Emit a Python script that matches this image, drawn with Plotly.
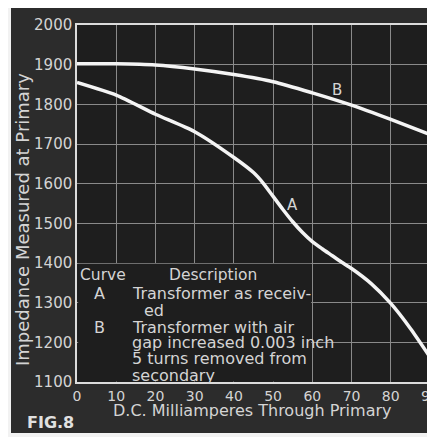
import plotly.graph_objects as go

# Curve A: transformer as received
xA = [0, 10, 20, 30, 40, 45, 47.5, 50, 52.5, 55, 57.5, 60, 62.5, 65, 67.5, 70, 75, 80, 85, 90]
yA = [1855, 1823, 1775, 1731, 1666, 1628, 1601, 1568, 1535, 1504, 1477, 1454, 1436, 1419, 1402, 1386, 1348, 1298, 1235, 1163]
# Curve B: air gap increased
xB = [0, 10, 20, 30, 40, 50, 60, 70, 80, 90]
yB = [1902, 1902, 1899, 1889, 1875, 1857, 1829, 1798, 1762, 1724]

x_ticks = [0, 10, 20, 30, 40, 50, 60, 70, 80, 90]
y_ticks = [1100, 1200, 1300, 1400, 1500, 1600, 1700, 1800, 1900, 2000]

FONT = "DejaVu Sans"
TXT = "#d4d4d4"

fig = go.Figure()
fig.add_trace(go.Scatter(x=xA, y=yA, mode="lines", line=dict(color="#f4f4f4", width=3.5, shape="spline", smoothing=0.6), showlegend=False))
fig.add_trace(go.Scatter(x=xB, y=yB, mode="lines", line=dict(color="#f4f4f4", width=3.5, shape="spline", smoothing=0.7), showlegend=False))

# plot area in screenshot pixels: x 77..430, y 25..382
W, H = 353, 357
def px(x):
    return (x - 77) / W
def py(y):
    return (382 - y) / H

shapes = [
    dict(type="rect", xref="paper", yref="paper", x0=px(11), x1=px(445), y0=py(433), y1=py(7),
         fillcolor="#2c2c2c", line=dict(width=0), layer="below"),
    dict(type="rect", xref="paper", yref="paper", x0=0, x1=1, y0=0, y1=1,
         fillcolor="#1e1e1e", line=dict(width=0), layer="below"),
    dict(type="rect", xref="x", yref="y", x0=0.3, x1=59.7, y0=1101, y1=1398,
         fillcolor="#1e1e1e", line=dict(width=0), layer="between"),
]

ann = []
def t(text, x, y, size=16, xanchor="left", **kw):
    ann.append(dict(text=text, x=x, y=y, xref="paper", yref="paper", showarrow=False,
                    xanchor=xanchor, yanchor="middle", font=dict(family=FONT, size=size, color=TXT), **kw))

t("Curve", px(78), py(275), size=15.5)
t("Description", px(167), py(275), size=15.5)
t("A", px(99), py(293), xanchor="center")
t("Transformer as receiv-", px(130), py(293))
t("ed", px(142), py(310))
t("B", px(99), py(327), xanchor="center")
t("Transformer with air", px(130), py(327))
t("gap increased 0.003 inch", px(130), py(342))
t("5 turns removed from", px(130), py(358))
t("secondary", px(130), py(375))
t("Impedance Measured at Primary", px(22), py(220), size=18, xanchor="center", textangle=-90)
t("D.C. Milliamperes Through Primary", px(252), py(410), size=16, xanchor="center")
ann.append(dict(text="<b>FIG.8</b>", x=px(25), y=py(422), xref="paper", yref="paper", showarrow=False,
                xanchor="left", yanchor="middle", font=dict(family=FONT, size=16, color="#e0e0e0")))
ann.append(dict(text="B", x=66.3, y=1836, xref="x", yref="y", showarrow=False,
                font=dict(family=FONT, size=15, color=TXT)))
ann.append(dict(text="A", x=55, y=1546, xref="x", yref="y", showarrow=False,
                font=dict(family=FONT, size=15, color=TXT)))

fig.update_layout(
    width=435, height=437,
    margin=dict(l=69, r=13, t=17, b=63, autoexpand=False),
    paper_bgcolor="#f2f2f2",
    plot_bgcolor="#1e1e1e",
    shapes=shapes,
    annotations=ann,
    xaxis=dict(range=[0, 90], tickvals=x_ticks, ticktext=[str(v) for v in x_ticks],
               showgrid=True, gridcolor="#8a8a8a", gridwidth=1, zeroline=False,
               showline=True, linecolor="#dcdcdc", linewidth=1.5, mirror=True,
               tickfont=dict(family=FONT, size=14, color=TXT), ticks="", automargin=False),
    yaxis=dict(range=[1100, 2000], tickvals=y_ticks, ticktext=[str(v) for v in y_ticks],
               showgrid=True, gridcolor="#8a8a8a", gridwidth=1, zeroline=False,
               showline=True, linecolor="#dcdcdc", linewidth=1.5,
               tickfont=dict(family=FONT, size=15, color=TXT), ticks="", automargin=False),
)

fig.write_html("out.html")
